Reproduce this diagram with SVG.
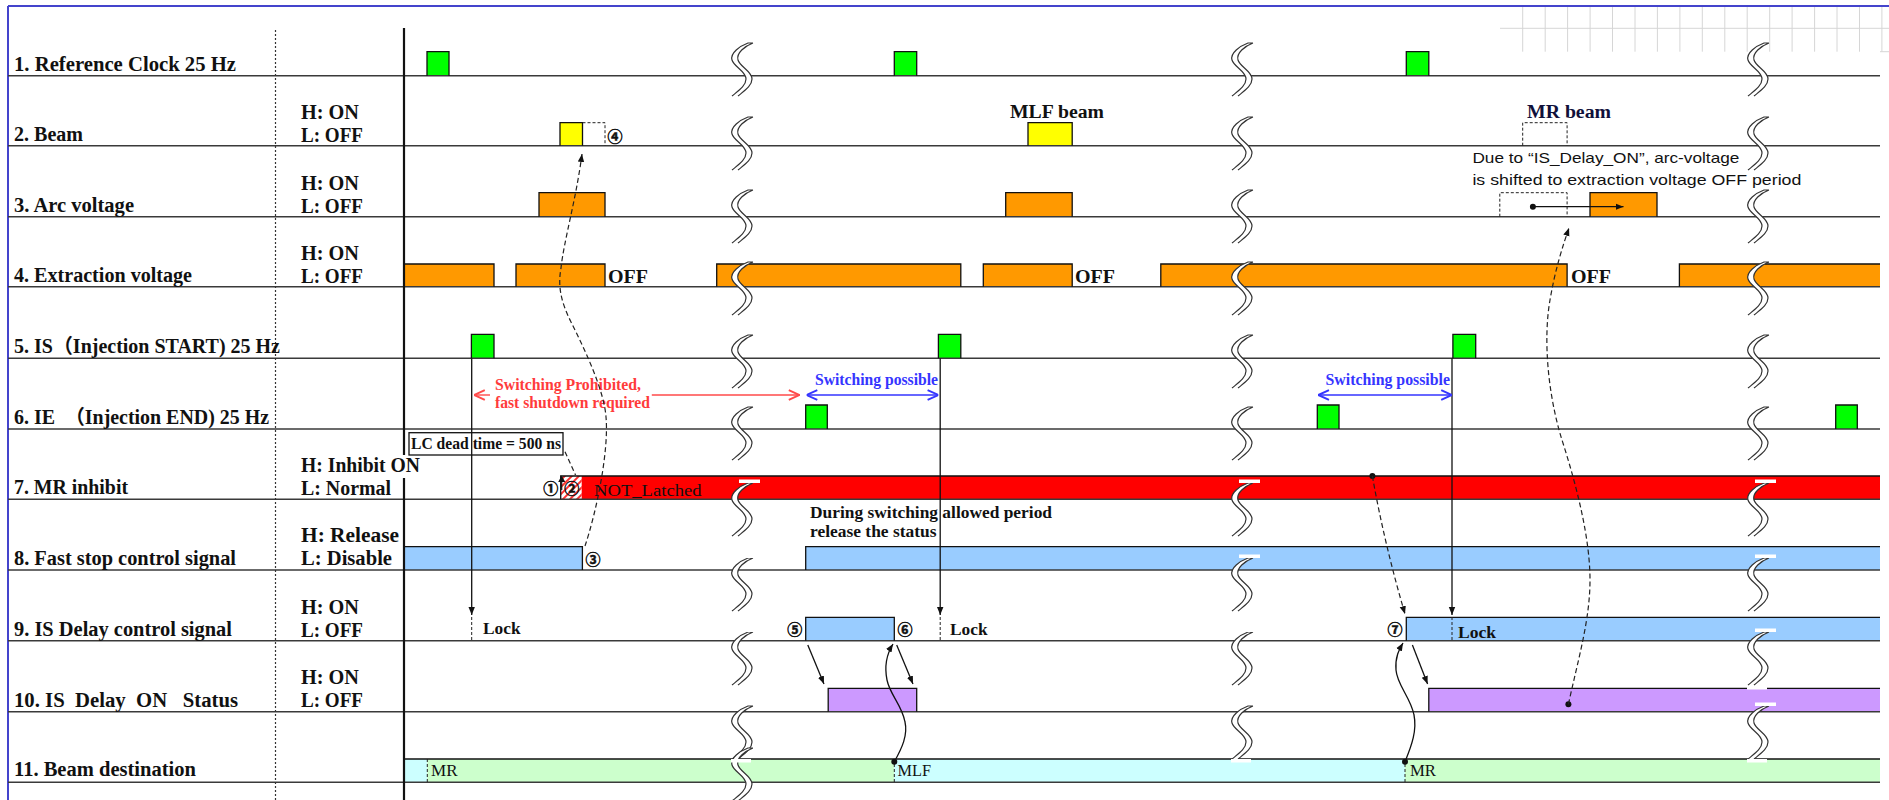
<svg xmlns="http://www.w3.org/2000/svg" xmlns:xlink="http://www.w3.org/1999/xlink" width="1889" height="800" viewBox="0 0 1889 800">
<style>
.lbl{font-family:"Liberation Serif","Noto Sans CJK JP",serif;font-weight:bold;font-size:20px;fill:#111;white-space:pre}
.t16{font-family:"Liberation Serif","Noto Sans CJK JP",serif;font-weight:bold;font-size:16px;fill:#111;white-space:pre}
.t18{font-family:"Liberation Serif",serif;font-weight:bold;font-size:18px;fill:#111}
.tn{font-family:"Liberation Serif",serif;font-size:16px;fill:#111}
.goth{font-family:"Liberation Sans","Noto Sans CJK JP",sans-serif;font-size:15px;fill:#111}
.red{fill:#ff3b3b}
.blu{fill:#3535ff}
.num{font-family:"Noto Sans CJK JP","DejaVu Sans",sans-serif;font-weight:bold;font-size:15px;fill:#111;stroke:#111;stroke-width:0.5;text-anchor:middle}
.sep{stroke:#3a3a3a;stroke-width:1.5;fill:none}
.out{stroke:#111;stroke-width:1.3;fill:none}
.g{fill:#00ff00}.y{fill:#ffff00}.o{fill:#ff9900}.r{fill:#ff0000}.b{fill:#99ccff}.p{fill:#cc99ff}.lg{fill:#ccffcc}.lc{fill:#ccffff}
.dash{stroke:#222;stroke-width:1.2;fill:none;stroke-dasharray:5,3}
.dsh2{stroke:#222;stroke-width:1;fill:none;stroke-dasharray:3,2}
.con{stroke:#111;stroke-width:1.3;fill:none}
.wb{fill:#fff}
</style>
<defs>
<marker id="af" viewBox="0 0 10 10" refX="10" refY="5" markerWidth="8" markerHeight="8" markerUnits="userSpaceOnUse" orient="auto"><path d="M0,1 L10,5 L0,9 Z" fill="#111"/></marker>
<marker id="ar" viewBox="0 0 10 10" refX="10" refY="5" markerWidth="12" markerHeight="12" markerUnits="userSpaceOnUse" orient="auto-start-reverse"><path d="M1,1 L10,5 L1,9" fill="none" stroke="#ff4a4a" stroke-width="1.6"/></marker>
<marker id="ab" viewBox="0 0 10 10" refX="10" refY="5" markerWidth="12" markerHeight="12" markerUnits="userSpaceOnUse" orient="auto-start-reverse"><path d="M1,1 L10,5 L1,9" fill="none" stroke="#3535ff" stroke-width="1.6"/></marker>
<pattern id="hatch" width="5" height="5" patternUnits="userSpaceOnUse" patternTransform="rotate(45)"><rect width="5" height="5" fill="#fff"/><line x1="1" y1="0" x2="1" y2="5" stroke="#ff3030" stroke-width="2"/></pattern>
<g id="brk">
<path d="M8,0 C0,3 -10,10 -8,17 C-6,24 6,28 6,36 C6,43 -2,48 -8,53 L-2,53 C4,48 12,43 12,36 C12,28 0,24 -2,17 C-4,10 5,3 13,0 Z" fill="#fff"/>
<path d="M13,0 L8,0 C0,3 -10,10 -8,17 C-6,24 6,28 6,36 C6,43 -2,48 -8,53 M13,0 C5,3 -4,10 -2,17 C0,24 12,28 12,36 C12,43 4,48 -2,53" fill="none" stroke="#333" stroke-width="1.2"/>
</g>
</defs>
<rect width="1889" height="800" fill="#fff"/>
<!-- background grid top right -->
<g stroke="#d6d6d6" stroke-width="1">
<line x1="1500" y1="28.3" x2="1889" y2="28.3"/>
<line x1="1880" y1="51.7" x2="1889" y2="51.7"/>
<line x1="1522.7" y1="7" x2="1522.7" y2="51.7"/><line x1="1545.2" y1="7" x2="1545.2" y2="51.7"/><line x1="1567.6" y1="7" x2="1567.6" y2="51.7"/><line x1="1590.1" y1="7" x2="1590.1" y2="51.7"/><line x1="1612.5" y1="7" x2="1612.5" y2="51.7"/><line x1="1635" y1="7" x2="1635" y2="51.7"/><line x1="1657.4" y1="7" x2="1657.4" y2="51.7"/><line x1="1679.9" y1="7" x2="1679.9" y2="51.7"/><line x1="1702.3" y1="7" x2="1702.3" y2="51.7"/><line x1="1724.8" y1="7" x2="1724.8" y2="51.7"/><line x1="1747.2" y1="7" x2="1747.2" y2="51.7"/><line x1="1769.7" y1="7" x2="1769.7" y2="51.7"/><line x1="1792.1" y1="7" x2="1792.1" y2="51.7"/><line x1="1814.6" y1="7" x2="1814.6" y2="51.7"/><line x1="1837" y1="7" x2="1837" y2="51.7"/><line x1="1859.5" y1="7" x2="1859.5" y2="51.7"/><line x1="1881.9" y1="7" x2="1881.9" y2="51.7"/>
</g>
<!-- frame -->
<g stroke="#4444cc" stroke-width="2" fill="none"><line x1="8" y1="6" x2="1889" y2="6"/><line x1="8" y1="6" x2="8" y2="800"/></g>

<!-- fills -->
<g id="fills">
<rect class="g" x="427" y="51.7" width="22" height="24"/><rect class="g" x="894.3" y="51.7" width="22.4" height="24"/><rect class="g" x="1406.3" y="51.7" width="22.5" height="24"/>
<rect class="y" x="560" y="122.7" width="22.5" height="23"/><rect class="y" x="1028" y="122.7" width="44.2" height="23"/>
<rect class="o" x="539" y="192.7" width="66" height="24"/><rect class="o" x="1005.7" y="192.7" width="66.5" height="24"/><rect class="o" x="1590" y="192.7" width="67" height="24"/>
<rect class="o" x="404" y="264" width="90" height="22.7"/><rect class="o" x="516" y="264" width="89" height="22.7"/><rect class="o" x="716.7" y="264" width="244.1" height="22.7"/><rect class="o" x="983.3" y="264" width="88.9" height="22.7"/><rect class="o" x="1160.8" y="264" width="406.3" height="22.7"/><rect class="o" x="1679.4" y="264" width="200.6" height="22.7"/>
<rect class="g" x="471.4" y="334.3" width="22.6" height="24"/><rect class="g" x="938.4" y="334.3" width="22.4" height="24"/><rect class="g" x="1452.9" y="334.3" width="22.8" height="24"/>
<rect class="g" x="805.7" y="405" width="21.6" height="24"/><rect class="g" x="1317.3" y="405" width="21.7" height="24"/><rect class="g" x="1835.7" y="405" width="21.6" height="24"/>
<rect fill="url(#hatch)" x="560.7" y="476" width="21" height="23.3"/><rect class="r" x="581.7" y="476" width="1298.3" height="23.3"/>
<rect class="b" x="404" y="546.7" width="178.4" height="23.3"/><rect class="b" x="805.7" y="546.7" width="1074.3" height="23.3"/>
<rect class="b" x="805.7" y="617.3" width="88.6" height="23.4"/><rect class="b" x="1406.3" y="617.3" width="473.7" height="23.4"/>
<rect class="p" x="828.2" y="688.3" width="88.5" height="23.4"/><rect class="p" x="1428.8" y="688.3" width="451.2" height="23.4"/>
<rect class="lc" x="404" y="759" width="23.3" height="23.3"/><rect class="lg" x="427.3" y="759" width="467" height="23.3"/><rect class="lc" x="894.3" y="759" width="510.7" height="23.3"/><rect class="lg" x="1405" y="759" width="475" height="23.3"/>
</g>

<!-- separators -->
<g class="sep">
<line x1="8" y1="75.7" x2="1880" y2="75.7"/><line x1="8" y1="145.7" x2="1880" y2="145.7"/><line x1="8" y1="216.7" x2="1880" y2="216.7"/><line x1="8" y1="286.7" x2="1880" y2="286.7"/><line x1="8" y1="358.3" x2="1880" y2="358.3"/><line x1="8" y1="429" x2="1880" y2="429"/><line x1="8" y1="499.3" x2="1880" y2="499.3"/><line x1="8" y1="570" x2="1880" y2="570"/><line x1="8" y1="640.7" x2="1880" y2="640.7"/><line x1="8" y1="711.7" x2="1880" y2="711.7"/><line x1="8" y1="782.3" x2="1880" y2="782.3"/>
</g>
<line x1="275.5" y1="30" x2="275.5" y2="800" stroke="#333" stroke-width="1.2" stroke-dasharray="2,2"/>
<g stroke="#111" stroke-width="2.2"><line x1="404" y1="28" x2="404" y2="455"/><line x1="404" y1="478" x2="404" y2="800"/></g>

<!-- outlines -->
<g class="out">
<path d="M427,75.7 V51.7 H449 V75.7 M894.3,75.7 V51.7 H916.7 V75.7 M1406.3,75.7 V51.7 H1428.8 V75.7"/>
<path d="M560,145.7 V122.7 H582.5 V145.7 M1028,145.7 V122.7 H1072.2 V145.7"/>
<path d="M539,216.7 V192.7 H605 V216.7 M1005.7,216.7 V192.7 H1072.2 V216.7 M1590,216.7 V192.7 H1657 V216.7"/>
<path d="M404,264 H494 V286.7 M516,286.7 V264 H605 V286.7 M716.7,286.7 V264 H960.8 V286.7 M983.3,286.7 V264 H1072.2 V286.7 M1160.8,286.7 V264 H1567.1 V286.7 M1679.4,286.7 V264 H1880"/>
<path d="M471.4,358.3 V334.3 H494 V358.3 M938.4,358.3 V334.3 H960.8 V358.3 M1452.9,358.3 V334.3 H1475.7 V358.3"/>
<path d="M805.7,429 V405 H827.3 V429 M1317.3,429 V405 H1339 V429 M1835.7,429 V405 H1857.3 V429"/>
<path d="M560.7,499.3 V476 H1880"/>
<path d="M404,546.7 H582.4 V570 M805.7,570 V546.7 H1880"/>
<path d="M805.7,640.7 V617.3 H894.3 V640.7 M1406.3,640.7 V617.3 H1880"/>
<path d="M828.2,711.7 V688.3 H916.7 V711.7 M1428.8,711.7 V688.3 H1880"/>
<path d="M404,759 H1880"/>
</g>
<g class="dsh2">
<path d="M582.5,122.7 H605 V145.7"/><path d="M1522.7,145.7 V122.7 H1567.1 V145.7"/><path d="M1499.8,216.7 V192.7 H1567.1 V216.7"/>
<line x1="427.3" y1="759" x2="427.3" y2="782.3"/><line x1="894.3" y1="759" x2="894.3" y2="782.3"/><line x1="1405" y1="759" x2="1405" y2="782.3"/>
</g>

<!-- breaks -->
<g id="breaks">
<use xlink:href="#brk" x="740" y="43"/><use xlink:href="#brk" x="740" y="117"/><use xlink:href="#brk" x="740" y="190"/><use xlink:href="#brk" x="740" y="262"/><use xlink:href="#brk" x="740" y="335"/><use xlink:href="#brk" x="740" y="407"/><use xlink:href="#brk" x="740" y="483"/><use xlink:href="#brk" x="740" y="558"/><use xlink:href="#brk" x="740" y="632"/><use xlink:href="#brk" x="740" y="706"/><use xlink:href="#brk" x="740" y="748"/>
<use xlink:href="#brk" x="1240" y="43"/><use xlink:href="#brk" x="1240" y="117"/><use xlink:href="#brk" x="1240" y="190"/><use xlink:href="#brk" x="1240" y="262"/><use xlink:href="#brk" x="1240" y="335"/><use xlink:href="#brk" x="1240" y="407"/><use xlink:href="#brk" x="1240" y="483"/><use xlink:href="#brk" x="1240" y="558"/><use xlink:href="#brk" x="1240" y="632"/><use xlink:href="#brk" x="1240" y="706"/>
<use xlink:href="#brk" x="1756" y="43"/><use xlink:href="#brk" x="1756" y="117"/><use xlink:href="#brk" x="1756" y="190"/><use xlink:href="#brk" x="1756" y="262"/><use xlink:href="#brk" x="1756" y="335"/><use xlink:href="#brk" x="1756" y="407"/><use xlink:href="#brk" x="1756" y="483"/><use xlink:href="#brk" x="1756" y="558"/><use xlink:href="#brk" x="1756" y="632"/><use xlink:href="#brk" x="1756" y="706"/>
<g class="wb">
<rect x="739" y="479.5" width="21" height="3.5"/><rect x="739" y="554.5" width="21" height="3.5"/><rect x="739" y="628.5" width="21" height="3.5"/>
<rect x="1239" y="479.5" width="21" height="3.5"/><rect x="1239" y="554.5" width="21" height="3.5"/><rect x="1239" y="628.5" width="21" height="3.5"/>
<rect x="1755" y="479.5" width="21" height="3.5"/><rect x="1755" y="554.5" width="21" height="3.5"/><rect x="1755" y="628.5" width="21" height="3.5"/><rect x="1755" y="702.5" width="21" height="3.5"/>
<rect x="1747" y="686" width="20" height="3.5"/><rect x="731" y="759" width="20" height="3.5"/><rect x="1231" y="759" width="20" height="3.5"/><rect x="1747" y="759" width="20" height="3.5"/>
</g>
</g>

<!-- rows / labels -->
<g id="row1"><text class="lbl" x="14" y="71" textLength="222" lengthAdjust="spacingAndGlyphs">1. Reference Clock 25 Hz</text></g>
<g id="row2"><text class="lbl" x="14" y="141" textLength="69" lengthAdjust="spacingAndGlyphs">2. Beam</text>
<text class="lbl" x="301" y="119" textLength="58" lengthAdjust="spacingAndGlyphs">H: ON</text><text class="lbl" x="301" y="141.5" textLength="62" lengthAdjust="spacingAndGlyphs">L: OFF</text>
<text class="t18" x="1010" y="118" textLength="94" lengthAdjust="spacingAndGlyphs">MLF beam</text>
<text class="t18" x="1527" y="118" textLength="84" lengthAdjust="spacingAndGlyphs" style="fill:#10103a">MR beam</text>
<text class="num" x="615" y="141.5">④</text></g>
<g id="row3"><text class="lbl" x="14" y="212" textLength="120" lengthAdjust="spacingAndGlyphs">3. Arc voltage</text>
<text class="lbl" x="301" y="190" textLength="58" lengthAdjust="spacingAndGlyphs">H: ON</text><text class="lbl" x="301" y="212.5" textLength="62" lengthAdjust="spacingAndGlyphs">L: OFF</text>
<text class="goth" x="1472.4" y="162.5" textLength="267" lengthAdjust="spacingAndGlyphs">Due to “IS_Delay_ON”, arc-voltage</text>
<text class="goth" x="1472.4" y="185" textLength="329" lengthAdjust="spacingAndGlyphs">is shifted to extraction voltage OFF period</text></g>
<g id="row4"><text class="lbl" x="14" y="282" textLength="178" lengthAdjust="spacingAndGlyphs">4. Extraction voltage</text>
<text class="lbl" x="301" y="260" textLength="58" lengthAdjust="spacingAndGlyphs">H: ON</text><text class="lbl" x="301" y="282.5" textLength="62" lengthAdjust="spacingAndGlyphs">L: OFF</text>
<text class="t18" x="608" y="283" textLength="40" lengthAdjust="spacingAndGlyphs">OFF</text><text class="t18" x="1075" y="283" textLength="40" lengthAdjust="spacingAndGlyphs">OFF</text><text class="t18" x="1571" y="283" textLength="40" lengthAdjust="spacingAndGlyphs">OFF</text></g>
<g id="row5"><text class="lbl" x="14" y="353" textLength="266" lengthAdjust="spacingAndGlyphs">5. IS（Injection START) 25 Hz</text></g>
<g id="row6"><text class="lbl" x="14" y="424" textLength="255" lengthAdjust="spacingAndGlyphs">6. IE　（Injection END) 25 Hz</text>
<text class="t16 red" x="495" y="390" textLength="146" lengthAdjust="spacingAndGlyphs">Switching Prohibited,</text>
<text class="t16 red" x="495" y="407.5" textLength="155" lengthAdjust="spacingAndGlyphs">fast shutdown required</text>
<text class="t16 blu" x="815" y="385" textLength="123" lengthAdjust="spacingAndGlyphs">Switching possible</text>
<text class="t16 blu" x="1325.5" y="385" textLength="124.5" lengthAdjust="spacingAndGlyphs">Switching possible</text></g>
<g id="row7"><text class="lbl" x="14" y="494" textLength="114" lengthAdjust="spacingAndGlyphs">7. MR inhibit</text>
<text class="lbl" x="301" y="471.7" textLength="119" lengthAdjust="spacingAndGlyphs">H: Inhibit ON</text><text class="lbl" x="301" y="495" textLength="90" lengthAdjust="spacingAndGlyphs">L: Normal</text>
<rect x="409" y="432.7" width="154" height="22.3" fill="#fff" stroke="#111" stroke-width="1.3"/>
<text class="t16" x="411" y="448.5" textLength="150" lengthAdjust="spacingAndGlyphs">LC dead time = 500 ns</text>
<text class="tn" x="594" y="495.5" textLength="107.6" lengthAdjust="spacingAndGlyphs" style="font-size:17px">NOT_Latched</text>
<text class="num" x="550.7" y="493.5">①</text><text class="num" x="571.7" y="493.5">②</text>
<path d="M561.7,490 V481" stroke="#111" stroke-width="1.2"/><path d="M558.2,482 L565.2,482 L561.7,475.5 Z" fill="#111"/></g>
<g id="row8"><text class="lbl" x="14" y="565" textLength="222" lengthAdjust="spacingAndGlyphs">8. Fast stop control signal</text>
<text class="lbl" x="301" y="541.7" textLength="98" lengthAdjust="spacingAndGlyphs">H: Release</text><text class="lbl" x="301" y="565" textLength="91" lengthAdjust="spacingAndGlyphs">L: Disable</text>
<text class="t16" x="810" y="518.3" textLength="242" lengthAdjust="spacingAndGlyphs" style="font-size:17px">During switching allowed period</text>
<text class="t16" x="810" y="536.7" textLength="126.5" lengthAdjust="spacingAndGlyphs" style="font-size:17px">release the status</text>
<text class="num" x="593" y="564.5">③</text></g>
<g id="row9"><text class="lbl" x="14" y="636" textLength="218" lengthAdjust="spacingAndGlyphs">9. IS Delay control signal</text>
<text class="lbl" x="301" y="613.5" textLength="58" lengthAdjust="spacingAndGlyphs">H: ON</text><text class="lbl" x="301" y="636.5" textLength="62" lengthAdjust="spacingAndGlyphs">L: OFF</text>
<text class="t16" x="483" y="634" textLength="37.5" lengthAdjust="spacingAndGlyphs">Lock</text><text class="t16" x="950" y="635" textLength="37.5" lengthAdjust="spacingAndGlyphs">Lock</text><text class="t16" x="1458" y="638" textLength="38" lengthAdjust="spacingAndGlyphs">Lock</text>
<text class="num" x="794.7" y="634.5">⑤</text><text class="num" x="905" y="634.5">⑥</text><text class="num" x="1395" y="634.5">⑦</text></g>
<g id="row10"><text class="lbl" x="14" y="707" textLength="224" lengthAdjust="spacingAndGlyphs">10. IS  Delay  ON   Status</text>
<text class="lbl" x="301" y="684" textLength="58" lengthAdjust="spacingAndGlyphs">H: ON</text><text class="lbl" x="301" y="707" textLength="62" lengthAdjust="spacingAndGlyphs">L: OFF</text></g>
<g id="row11"><text class="lbl" x="14" y="776" textLength="182" lengthAdjust="spacingAndGlyphs">11. Beam destination</text>
<text class="tn" x="431" y="775.5" textLength="26.5" lengthAdjust="spacingAndGlyphs">MR</text><text class="tn" x="897.5" y="775.5" textLength="33.5" lengthAdjust="spacingAndGlyphs">MLF</text><text class="tn" x="1410" y="775.5" textLength="26" lengthAdjust="spacingAndGlyphs">MR</text></g>

<!-- connectors -->
<g id="connectors">
<path class="con" d="M471.7,358.3 V615" marker-end="url(#af)"/><path class="dsh2" d="M471.7,617 V640.7"/>
<path class="con" d="M940.2,358.3 V615" marker-end="url(#af)"/><path class="dsh2" d="M940.2,617 V640.7"/>
<path class="con" d="M1452,358.3 V615" marker-end="url(#af)"/><path class="dsh2" d="M1452,617 V640.7"/>
<path d="M490,395 H474" stroke="#ff4a4a" stroke-width="1.4" fill="none" marker-end="url(#ar)"/>
<path d="M651.8,395 H799.6" stroke="#ff4a4a" stroke-width="1.4" fill="none" marker-end="url(#ar)"/>
<path d="M806.5,395 H938.4" stroke="#3535ff" stroke-width="1.4" fill="none" marker-start="url(#ab)" marker-end="url(#ab)"/>
<path d="M1318.2,395 H1452" stroke="#3535ff" stroke-width="1.4" fill="none" marker-start="url(#ab)" marker-end="url(#ab)"/>
<path class="dash" d="M585,546 C597,510 609,450 606,417 C604,390 585,350 571,322 C560,300 558,285 561,268 C564,240 576,200 582,154" marker-end="url(#af)"/>
<path class="dash" d="M565,451.7 L575.5,475"/>
<path class="con" d="M807.8,645 L824,684" marker-end="url(#af)"/>
<path class="con" d="M896.7,645 L913,684" marker-end="url(#af)"/>
<path class="con" d="M1412.4,645 L1427.6,684" marker-end="url(#af)"/>
<circle cx="894.3" cy="761.7" r="3" fill="#111"/>
<path class="con" d="M894.3,761.7 C902,748 908,735 905,722 C902,705 890,695 887,680 C884,665 888,652 893,644" marker-end="url(#af)"/>
<circle cx="1405" cy="761.7" r="3" fill="#111"/>
<path class="con" d="M1405,761.7 C1412,745 1417,730 1414,715 C1411,698 1397,685 1396,670 C1395,657 1399,650 1403,643" marker-end="url(#af)"/>
<circle cx="1372.4" cy="476" r="3" fill="#111"/>
<path class="dash" d="M1372.4,476 C1380,520 1392,570 1405,614" marker-end="url(#af)"/>
<circle cx="1568.4" cy="704.3" r="3" fill="#111"/>
<path class="dash" d="M1568.4,704.3 C1578,660 1590,620 1590,580 C1590,540 1578,490 1562,440 C1548,395 1543,340 1550,300 C1555,270 1563,245 1569,228" marker-end="url(#af)"/>
<circle cx="1532.9" cy="206.7" r="3" fill="#111"/>
<path class="con" d="M1532.9,206.7 H1623.5" marker-end="url(#af)"/>
</g>
</svg>
